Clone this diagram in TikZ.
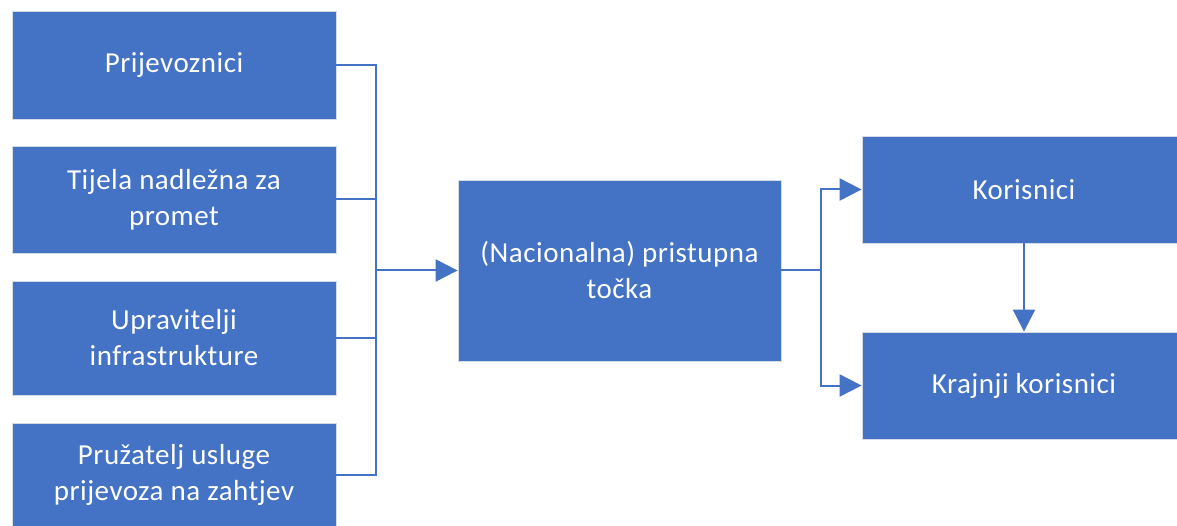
\documentclass[tikz,border=0pt]{standalone}
\usepackage{fontspec}
\setmainfont{Carlito}[LetterSpace=1.7]
\usetikzlibrary{arrows.meta}

\definecolor{boxblue}{HTML}{4472C4}
\definecolor{boxedge}{HTML}{D6DCE5}

\tikzset{
    box/.style={fill=boxblue, draw=boxedge, line width=0.8pt, text=white,
        align=center, inner sep=0pt, font=\fontsize{29}{36}\selectfont},
    link/.style={draw=boxblue, line width=2pt},
    arrow/.style={link, -{Triangle[length=22pt,width=22pt]}}
}

\begin{document}
\begin{tikzpicture}[x=1pt, y=-1pt]
    % Okvir slike
    \useasboundingbox (0,0) rectangle (1177,526);
    \clip (0,0) rectangle (1177,526);

    % Izvori podataka
    \node[box, minimum width=324pt, minimum height=108pt] (carriers) at (174,65) {Prijevoznici};
    \node[box, minimum width=324pt, minimum height=107pt] (authorities) at (174,199.5) {Tijela nadležna za\\promet};
    \node[box, minimum width=324pt, minimum height=114pt] (managers) at (174,338) {Upravitelji\\infrastrukture};
    \node[box, minimum width=324pt, minimum height=104pt] (ondemand) at (174,475) {Pružatelj usluge\\prijevoza na zahtjev};

    % Pristupna točka
    \node[box, minimum width=323pt, minimum height=181pt] (access) at (619.5,270.5) {(Nacionalna) pristupna\\točka};

    % Korisnici
    \node[box, minimum width=324pt, minimum height=107pt] (users) at (1024,189.5) {Korisnici};
    \node[box, minimum width=324pt, minimum height=107pt] (endusers) at (1024,385.5) {Krajnji korisnici};

    % Spojnice
    \coordinate (join) at (376,270.5);
    \coordinate (split) at (821,270.5);
    \foreach \src in {carriers,authorities,managers,ondemand}
        \draw[link] (\src.east) -| (join);
    \draw[arrow] (join) -- (access.west);

    \draw[link] (access.east) -- (split);
    \draw[arrow] (split) |- (users.west);
    \draw[arrow] (split) |- (endusers.west);
    \draw[arrow] (users.south) -- (endusers.north);
\end{tikzpicture}
\end{document}
